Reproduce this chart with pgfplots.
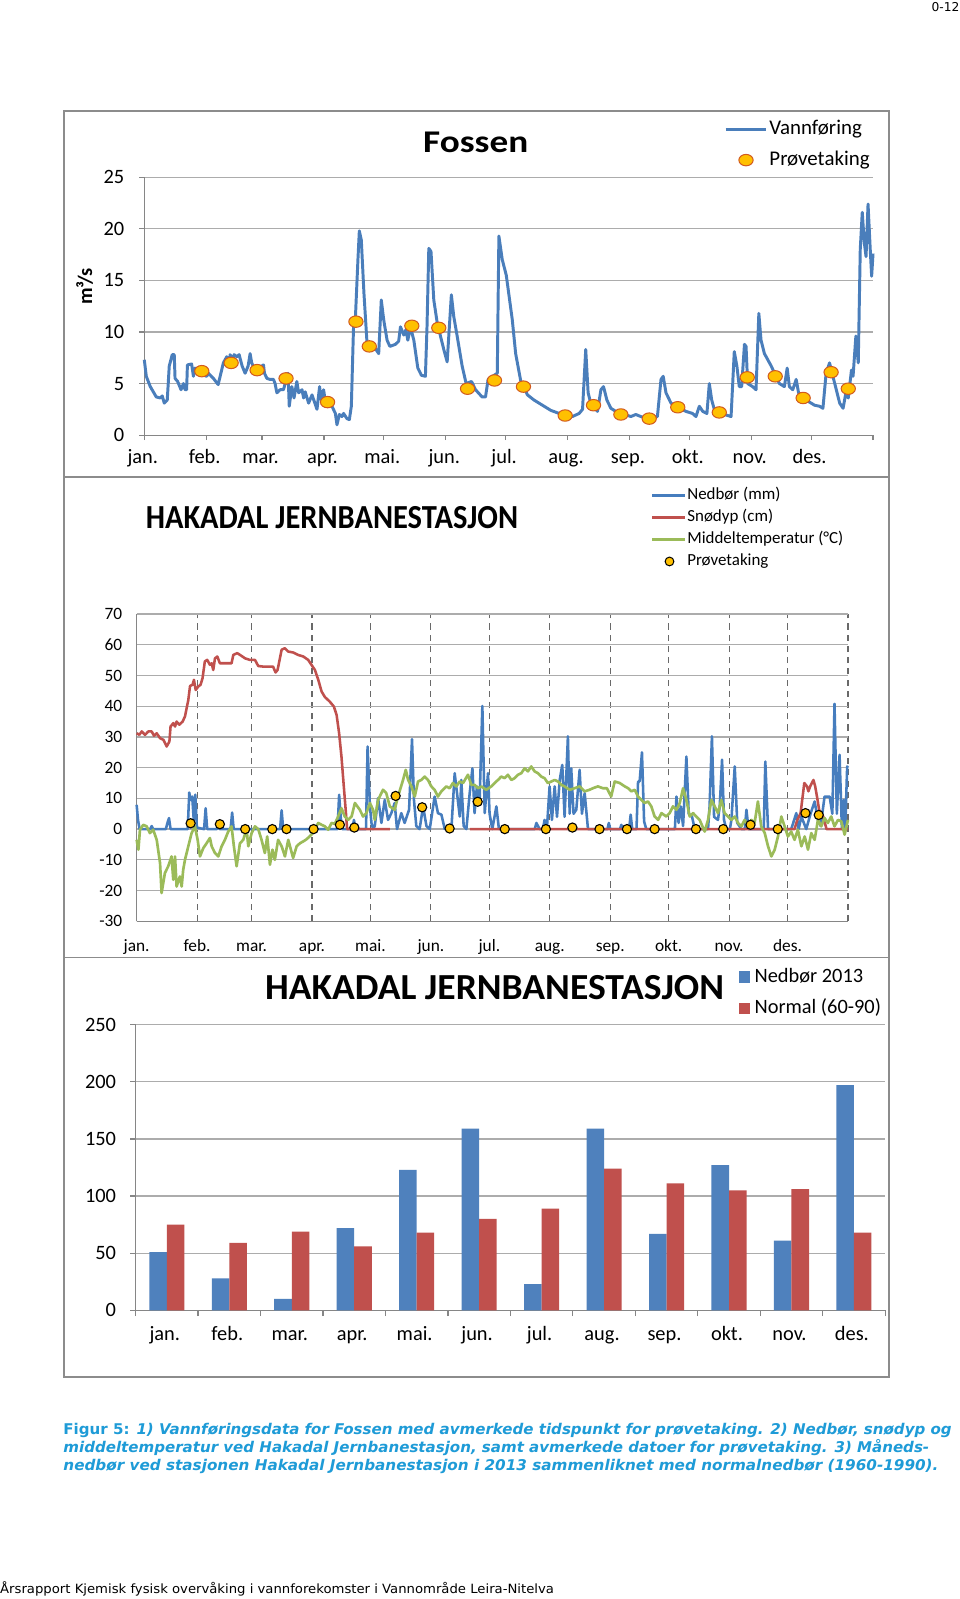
\documentclass[border=0pt]{standalone}
\usepackage{fontspec}
\setmainfont{Carlito}
\newfontfamily\capfont{DejaVu Sans}
\usepackage{graphicx}
\usepackage{pgfplots}
\pgfplotsset{compat=1.18}
\definecolor{pblue}{RGB}{74,126,187}
\definecolor{markfill}{RGB}{255,192,0}
\definecolor{markedge}{RGB}{210,90,30}
\definecolor{nblue}{RGB}{70,125,190}
\definecolor{nred}{RGB}{192,80,77}
\definecolor{ngreen}{RGB}{155,187,89}
\definecolor{gridgray}{RGB}{172,172,172}
\definecolor{axisgray}{RGB}{134,134,134}
\definecolor{dashgray}{RGB}{105,105,105}
\definecolor{framegray}{RGB}{140,140,140}
\definecolor{capblue}{RGB}{30,155,215}
\definecolor{barblue}{RGB}{79,129,189}
\definecolor{barred}{RGB}{192,80,77}
\newcommand\fs[1]{\fontsize{#1}{#1}\selectfont}
\begin{document}
\begin{tikzpicture}
\fill[white] (0pt,0pt) rectangle (941pt,1568pt);
% frames
\draw[framegray, line width=1.6pt] (63pt,1459pt) rectangle (872pt,1100pt);
\draw[framegray, line width=1.6pt] (63pt,1100pt) -- (63pt,629pt);
\draw[framegray, line width=1.6pt] (872pt,1100pt) -- (872pt,629pt);
\draw[framegray, line width=1.6pt] (63pt,629pt) rectangle (872pt,218pt);

% titles
\node[inner sep=0pt] at (466.5pt,1428pt) {\resizebox{103pt}{\height}{\fs{31}\bfseries Fossen}};
\node[inner sep=0pt] at (325.5pt,1060pt) {\resizebox{365pt}{\height}{\fs{33}\bfseries HAKADAL JERNBANESTASJON}};
\node[inner sep=0pt] at (485pt,600pt) {\resizebox{450pt}{\height}{\fs{36}\bfseries HAKADAL JERNBANESTASJON}};

% ---------------- Panel 1 ----------------
\begin{axis}[
  at={(141.5pt,1141.3pt)}, anchor=south west,
  scale only axis, width=714.6pt, height=252.9pt,
  xmin=0, xmax=365, ymin=0, ymax=25, clip=false,
  axis lines*=left, axis line style={-, draw=axisgray, line width=1.2pt},
  tick align=outside, major tick length=5pt,
  tick style={draw=axisgray, line width=1.2pt},
  xtick={0,31,59,90,120,151,181,212,243,273,304,334,365},
  xticklabels={jan.,feb.,mar.,apr.,mai.,jun.,jul.,aug.,sep.,okt.,nov.,des.,},
  ytick={0,5,10,15,20,25}, yticklabels={0,5,10,15,20,25},
  ymajorgrids, grid style={draw=gridgray, line width=1.2pt},
  ticklabel style={font=\fs{20}},
  xticklabel style={anchor=base, inner sep=0pt, yshift=-22.8pt, xshift=-1.5pt},
  yticklabel style={anchor=east, inner sep=0pt, xshift=-14.5pt},
  ylabel={\fs{20}\bfseries m³/s},
  ylabel style={at={(axis description cs:-0.082,0.576)}, anchor=center},
  legend style={at={(axis description cs:0.7956,1.2245)}, anchor=north west,
    draw=none, fill=none, inner sep=0pt, outer sep=0pt, row sep=10pt,
    font=\fs{20.5}, nodes={inner sep=1pt, text height=14pt, text depth=4pt}},
  legend cell align=left,
  legend image code/.code={\path[draw=none,fill=none] (0pt,0pt) -- (42pt,0pt);\draw[#1, line width=3pt] (0pt,0pt) -- (40pt,0pt);},
]
\addplot[pblue, line width=2.9pt, line join=round] coordinates {
(0,7.3) (1,5.7) (3,4.7) (4.5,4.2) (6,3.7) (8,3.6) (9,3.8) (10,3.1) (11.5,3.4) (12.5,6.7)
(14,7.8) (15,7.8) (15.4,5.5) (16.7,5.2) (18.4,4.4) (19.6,5.0) (20.4,4.4) (21.2,4.4) (21.6,6.8) (23.7,6.9)
(24.6,5.7) (25.4,6.5) (27,6.0) (31.3,5.7) (32.1,6.0) (34.6,5.5) (37,4.9) (39.6,7.0) (41.3,7.6) (42.5,6.9)
(43,7.8) (44.3,7.3) (45,7.8) (46.3,7.6) (47.5,7.8) (49,6.7) (50.5,6.0) (52,6.7) (53,7.9) (53.8,7.0)
(55.5,6.3) (59.7,6.8) (60.2,6.0) (61.4,5.5) (63,5.4) (64.7,5.4) (65.5,5.0) (66.4,4.1) (68,4.4) (69.7,4.4)
(72,6.0) (72.6,2.8) (73.9,4.7) (75,3.6) (76.4,5.2) (77.3,4.1) (79,4.4) (79.8,3.6) (80.6,4.2) (82.3,3.1)
(84,3.9) (86.5,2.5) (87.8,4.7) (88.6,3.4) (89.8,4.4) (90.6,3.4) (94,2.8) (95.7,2.1) (96.5,1.0) (97.7,2.0)
(99,1.8) (99.8,2.1) (101.5,1.6) (102.7,1.5) (103.7,2.8) (104.8,10.5) (105.7,11.2) (107,17.0) (107.7,19.8) (108.7,18.9)
(110,13.8) (111.5,9.1) (113.2,8.6) (115.7,8.4) (117.4,7.9) (118.7,13.1) (119.9,11.2) (121.6,9.2) (123,8.6) (125.8,8.8)
(127.4,9.1) (128.3,10.5) (130,9.7) (131,10.2) (132,9.2) (133.3,10.5) (135,9.2) (137,6.5) (138.8,5.8) (140.8,5.7)
(141.6,10.5) (142.5,18.1) (143.6,17.8) (145,13.1) (146.7,10.9) (150,8.3) (151.7,7.1) (153.8,13.6) (155,11.5) (156.7,9.6)
(159.2,6.7) (161.2,5.0) (163.9,5.2) (165.9,4.4) (169.2,3.7) (170.9,3.7) (172.2,5.4) (176.8,6.0) (177.6,19.3) (179.3,17.0)
(181.3,15.5) (184.3,11.2) (186,7.9) (188.5,5.3) (191.9,3.9) (195.2,3.4) (199.4,2.9) (203.6,2.4) (207.8,2.1) (214.4,1.8)
(217.8,2.1) (219.5,2.5) (221.1,8.3) (222.3,4.1) (223.6,3.1) (227,2.3) (228.7,4.4) (230,4.7) (231.7,3.4) (233.7,2.6)
(236.2,2.3) (243.7,1.8) (246.2,2.0) (248.7,1.8) (252,1.6) (257,1.8) (258.8,5.4) (259.9,5.7) (261.3,4.1) (263.8,3.1)
(266.3,2.8) (271.3,2.3) (274.6,2.1) (276.3,1.8) (278,2.8) (279.7,2.3) (281.8,2.1) (283,5.0) (284.2,3.4) (285.5,2.5)
(290.5,2.0) (293.9,1.8) (295.5,8.1) (296.8,6.7) (298,4.7) (299.2,4.7) (300.6,8.8) (301.4,8.6) (302.2,5.0) (304.7,4.7)
(306.4,4.4) (307.8,11.8) (308.9,9.2) (310.6,7.9) (312.3,7.3) (314,6.7) (318.1,5.0) (320.6,4.7) (322,6.5) (323.1,4.7)
(324.8,4.4) (326.5,5.4) (327.7,4.1) (332.3,3.3) (335.7,2.9) (338.2,2.8) (339.9,2.6) (341.5,6.0) (343.2,7.0) (346.6,4.4)
(348.3,3.1) (350,2.6) (351.4,4.1) (352.6,3.6) (354.2,6.3) (355,5.7) (356.4,9.6) (357.6,7.0) (358.6,18.0) (359.6,21.6)
(360.6,18.7) (361.5,17.3) (362.5,22.4) (363.6,18.0) (364.3,15.4) (365,17.6)
};
\addlegendentry{Vannføring}
\addplot[only marks, mark=*, mark size=5.6pt,
  mark options={xscale=1.25, draw=markedge, fill=markfill, line width=1pt},
  legend image code/.code={\path[draw=none,fill=none] (0pt,0pt) -- (42pt,0pt);\draw[draw=markedge, fill=markfill, line width=1pt] (20pt,0pt) ellipse [x radius=7pt, y radius=5.6pt];}]
coordinates {
(28.8,6.2) (43.5,7.0) (56.5,6.3) (71.0,5.5) (91.8,3.2) (106.0,11.0) (112.7,8.6) (134.0,10.6)
(147.5,10.4) (161.9,4.5) (175.4,5.3) (189.9,4.7) (210.8,1.9) (225.0,2.9) (238.7,2.0) (252.9,1.6)
(267.2,2.7) (288.0,2.2) (302.0,5.6) (316.0,5.7) (330.0,3.6) (344.0,6.1) (352.6,4.5)
};
\addlegendentry{Prøvetaking}
\end{axis}

% ---------------- Panel 2 ----------------
\begin{axis}[
  at={(134pt,664.6pt)}, anchor=south west,
  scale only axis, width=697.5pt, height=301.2pt,
  xmin=0, xmax=365, ymin=-30, ymax=70, clip=false,
  axis lines*=left, axis line style={-, draw=axisgray, line width=1.2pt},
  major tick length=0pt,
  xtick={0,31,59,90,120,151,181,212,243,273,304,334,365},
  xticklabels={jan.,feb.,mar.,apr.,mai.,jun.,jul.,aug.,sep.,okt.,nov.,des.,},
  ytick={-30,-20,-10,0,10,20,30,40,50,60,70},
  yticklabels={-30,-20,-10,0,10,20,30,40,50,60,70},
  xmajorgrids, ymajorgrids,
  x grid style={draw=dashgray, line width=1.1pt, dash pattern=on 6pt off 5pt},
  y grid style={draw=gridgray, line width=1.2pt},
  ticklabel style={font=\fs{17}},
  xticklabel style={anchor=base, inner sep=0pt, yshift=-29.5pt},
  yticklabel style={anchor=east, inner sep=0pt, xshift=-14pt},
  unbounded coords=jump,
  legend style={at={(axis description cs:0.7226,1.4157)}, anchor=north west,
    draw=none, fill=none, inner sep=0pt, outer sep=0pt, row sep=4.7pt,
    font=\fs{16.6}, nodes={inner sep=1pt, text height=11.5pt, text depth=3.5pt}},
  legend cell align=left,
  legend image code/.code={\path[draw=none,fill=none] (0pt,0pt) -- (33pt,0pt);\draw[#1, line width=3pt] (0pt,0pt) -- (32pt,0pt);},
]
\addplot[nblue, line width=2.5pt, line join=round] coordinates {
(0,7.9) (0.7,3) (1.5,0) (7,0) (7.7,1) (8.5,0) (15,0) (15.8,2) (16.6,3.6) (17.4,0) (26.2,0) (27,11.9) (27.7,9.5)
(28.5,10.6) (29.3,3) (30.1,11.2) (30.9,0.5) (34.6,0) (35.4,6.8) (36.2,0) (41.2,0) (41.9,2) (42.6,0) (48.2,0) (49,5.4)
(49.8,0) (73.6,0) (74.4,6.1) (75.2,0) (103.1,0) (103.9,11.2) (104.7,4) (105.5,0) (110.7,0) (111.5,3) (112.3,0)
(117.7,0) (118.5,26.9) (119.7,7.4) (120.5,2) (121.3,0) (122.2,1) (123.9,10.1) (125.6,2) (127.3,9.5) (129,3) (130.7,5.2)
(132.4,8.5) (133.6,0) (135.8,5.2) (137.5,2) (139.8,6.3) (141.3,29.3) (142.3,9.5) (143.5,1) (145.2,0) (147,7.4) (148.7,1)
(150.4,0) (152.9,10.6) (154.6,5.2) (156.4,4.7) (158.1,0) (161.5,0) (163.2,18.2) (164.4,11.7) (165.8,4.1) (166.6,16)
(167.8,1) (169.2,0) (170.9,11.7) (172.3,19.8) (173.4,5.2) (174.6,13.9) (176,9.5) (177.4,40.1) (178.6,5.2) (180.3,18.2)
(181.1,5) (182.5,0) (184.6,7.4) (185.9,0) (204.3,0) (205.1,2) (206.8,0) (208.5,0) (209.3,3) (210.5,0) (211.9,13.9)
(213.1,3) (214.5,13.9) (215.7,4) (217.1,16) (218.4,20.9) (219.6,4) (221.3,30.2) (222.2,5) (223,19.8) (224.2,5)
(225.6,6.3) (227.3,19.3) (228.5,5) (229.9,11.7) (231.6,0) (241.6,0) (242.3,2) (243,0) (248,0) (248.7,1.4) (249.4,0)
(252.7,0) (253.5,4.7) (254.3,0) (256.5,0) (257.3,15.5) (258.1,15.5) (259.3,25) (260.4,2.5) (261.5,0) (276.2,0)
(277,10.6) (278.1,2) (279.2,7.4) (280.4,1) (282.1,23.6) (283.3,5) (285,4) (286.4,0) (293.2,0) (294,7.4) (295.2,30.2)
(296.3,4) (298.3,3) (299.2,7.4) (300.4,22.6) (301.4,3) (302.6,0) (304.4,0) (305.2,3) (306.9,20.4) (308.2,2) (310.3,0)
(312.1,0) (312.9,6.3) (314,0) (321.8,0) (322.6,22) (324,0) (335.9,0) (338.5,5.2) (339.7,0) (341.1,4.1) (343.6,0)
(345.8,5) (347.9,9) (349.6,3) (351,1) (353,10.6) (355.6,10.6) (357,5) (358.1,40.8) (359.3,5) (360.7,24.2) (361.9,0)
(362.9,9.5) (363.6,0) (364.6,20.4) (365,20)
};
\addlegendentry{Nedbør (mm)}
\addplot[nred, line width=2.5pt, line join=round] coordinates {
(0,31.2) (1.4,30.7) (2.6,31.8) (4.3,30.7) (6,31.8) (7.7,31.8) (8.9,30.4) (10.3,31.2) (12,29.6) (13.7,29.1)
(15.4,26.9) (16.8,28.5) (17.4,33.4) (18.8,34.5) (19.7,33.4) (20.5,35.0) (21.9,34.0) (23.6,35.0) (24.8,36.7) (26.5,42.0)
(27.4,46.6) (28.7,47.0) (29.4,48.6) (30.3,45.3) (31.6,46.4) (32.8,47.0) (33.8,49.1) (35.0,54.6) (36.2,55.1) (37.6,53.5)
(38.5,54.0) (39.3,51.8) (40.2,55.6) (41.4,56.2) (42.7,54.0) (46.0,54.0) (48.7,54.0) (49.6,56.7) (51.6,57.3) (53.8,56.4)
(55.6,55.6) (58.0,55.1) (60.7,55.1) (62.4,53.1) (65.0,52.9) (67.5,52.9) (70.0,52.9) (71.3,51.0) (72.3,51.8) (74.4,58.4)
(76.0,58.9) (77.8,57.8) (80.3,57.5) (82.9,56.7) (85.5,56.2) (88.0,55.1) (89.7,53.5) (91.5,51.8) (93.2,48.6) (94.9,44.8)
(96.6,43.0) (99.1,41.5) (101.2,39.9) (102.6,37.2) (103.9,31.2) (105.1,23.6) (106.3,13.9) (107.4,5.2) (108,0) (130,0)
(150,nan)
(171,0) (337.6,0) (339,3) (340.7,5.2) (342.6,15) (344,13.9) (344.7,12.3) (345.6,13.9) (347.3,16) (348.2,13.9)
(349.4,9.5) (350.2,6.3) (352.3,4.1) (354,0) (365,0)
};
\addlegendentry{Snødyp (cm)}
\addplot[ngreen, line width=2.6pt, line join=round] coordinates {
(0,-3.5) (0.9,-6.7) (1.7,-0.2) (3.4,1.4) (5.1,0.9) (6.8,-1.3) (8.5,-0.2) (10.3,-3.5) (12.0,-11) (12.8,-20.8)
(14.5,-14.3) (16.2,-12.1) (17.9,-8.9) (18.8,-16.5) (19.7,-8.9) (20.5,-18.7) (22.2,-15.4) (23.1,-18.7) (23.9,-13.2) (24.8,-10)
(26.5,-5.6) (28.2,-1.3) (29.9,0.9) (31.3,-3.5) (32.5,-8.9) (34.2,-6.2) (35.9,-4.6) (37.6,-2.9) (38.5,-5.6) (40.2,-7.8)
(41.9,-8.9) (43.6,-5.6) (45.3,-3.5) (47.0,-0.8) (48.7,0.9) (49.9,-5.6) (51.3,-12.1) (53.0,-4.6) (54.7,-3.5) (56.4,0)
(57.3,-5.6) (59.0,-1.3) (60.7,0.9) (62.4,0) (64.1,-3.5) (65.8,-7.8) (67.0,-2.4) (68.4,-11.6) (69.7,-6.7) (70.9,-10)
(72.6,-3.5) (74.4,-5.6) (76.1,-8.9) (77.8,-3.5) (80.3,-9.4) (82.1,-5.6) (83.8,-4.6) (85.5,-4.0) (87.2,-3.3) (89.7,-1.8)
(91.5,0) (93.2,2) (94.9,1.4) (96.6,0.9) (98.3,-0.2) (100.0,2) (101.7,1.7) (103.4,4.1) (105.1,6.8) (106.8,4.1)
(108.5,3) (110.3,4.1) (112.0,8.5) (114.5,6.3) (116.2,4.1) (117.9,5.2) (119.7,8.5) (121.3,6.3) (122.2,3) (123.9,9.5)
(126.4,12.8) (128.1,11.7) (129.9,7.4) (132.4,6.3) (134.1,10.6) (136.7,16) (138.1,19.3) (139.3,16) (141.0,13.9) (142.7,10.6)
(144.4,15.5) (146.1,16) (147.8,17.1) (149.5,16) (151.2,13.9) (152.9,12.8) (154.6,10.6) (156.4,12.3) (158.9,13.9) (160.6,13.3)
(162.3,15) (164.0,13.9) (165.8,15.5) (167.5,15) (170.0,17.7) (171.7,14.4) (173.4,14.4) (175.2,13.3) (176.9,13.9) (179.4,12.8)
(182.0,13.9) (183.7,15) (185.4,16) (187.1,17.1) (188.8,16.6) (190.5,17.7) (192.3,16) (194.0,16.6) (195.7,17.7) (197.4,18.2)
(199.1,19.8) (200.8,18.8) (202.5,20.4) (204.2,18.8) (205.9,18.2) (207.6,17.1) (209.3,16.6) (211.0,15) (212.8,15.5) (214.5,16)
(216.2,15.5) (217.9,14.4) (219.6,13.9) (222.2,12.8) (224.7,13.3) (227.3,13.9) (229.9,12.3) (232.4,12.8) (234.1,13.3) (236.7,13.9)
(239.3,13.3) (241.3,13.3) (243.5,10.6) (245.3,15.5) (247.9,15) (250.5,13.9) (252.2,13.3) (253.9,12.3) (255.6,12.8) (257.3,10.6)
(259,9.5) (260.7,8.5) (262.4,9) (264.1,7.4) (265.8,4.1) (267.6,3) (269.3,5.2) (271.8,4.1) (273.5,5.2) (275.2,7.4)
(277,6.3) (278.7,8.5) (280.4,13.3) (282.1,9.5) (283.8,4.1) (285.5,5.2) (287.2,4.1) (288.9,3) (291.5,-0.8) (293.2,3)
(294.9,9.5) (296.6,7.4) (298.3,5.2) (300,9.5) (301.7,5.2) (303.4,4.1) (305.2,3) (306.9,4.1) (308.6,2) (310.3,0.9)
(312,3) (314.1,0.9) (315.4,3) (317.1,2) (318.8,9) (320.5,0.9) (322.3,-1.3) (324,-5.6) (325.7,-8.9) (327.4,-6.7)
(329.1,-2.4) (330.8,4.1) (332.5,0.9) (334.2,-2.4) (335.9,-0.8) (337.6,-3.5) (339.3,-0.2) (341.1,-5.6) (342.8,-2.4) (344.5,-6.7)
(346.2,-1.3) (347.9,-3.5) (349.6,3) (351.3,0.9) (353,3.6) (354.7,2) (356.4,4.1) (358.1,0.9) (359.9,3) (361.6,2.5)
(363.3,-1.8) (365,3)
};
\addlegendentry{Middeltemperatur (°C)}
\addplot[only marks, mark=*, mark size=4.5pt,
  mark options={draw=black, fill=markfill, line width=1.1pt},
  legend image code/.code={\path[draw=none,fill=none] (0pt,0pt) -- (33pt,0pt);\draw[draw=black, fill=markfill, line width=1pt] (17pt,0pt) circle [radius=4.3pt];}]
coordinates {
(27.7,1.9) (42.7,1.6) (55.7,0) (69.6,0) (76.9,0) (90.8,0) (104.3,1.4) (111.7,0.5) (132.9,10.8) (146.5,7.1)
(160.6,0.2) (175.0,8.9) (188.9,0) (210.0,0) (223.6,0.5) (237.5,0) (251.6,0) (265.8,0) (287.0,0) (301.0,0)
(315.0,1.4) (329.0,0) (343.2,5.2) (350.0,4.6)
};
\addlegendentry{Prøvetaking}
\end{axis}

% ---------------- Panel 3 ----------------
\begin{axis}[
  at={(133pt,283pt)}, anchor=south west,
  scale only axis, width=735pt, height=280.3pt,
  xmin=-0.5, xmax=11.5, ymin=0, ymax=250, clip=false,
  ybar=0pt, bar width=17.2pt,
  axis lines*=left, axis line style={-, draw=axisgray, line width=1.2pt},
  tick align=outside, major tick length=5.5pt,
  tick style={draw=axisgray, line width=1.2pt},
  xtick={-0.5,0.5,1.5,2.5,3.5,4.5,5.5,6.5,7.5,8.5,9.5,10.5,11.5},
  x tick label as interval,
  xticklabels={jan.,feb.,mar.,apr.,mai.,jun.,jul.,aug.,sep.,okt.,nov.,des.},
  ytick={0,50,100,150,200,250}, yticklabels={0,50,100,150,200,250},
  ymajorgrids, grid style={draw=gridgray, line width=1.2pt},
  ticklabel style={font=\fs{20}},
  xticklabel style={anchor=base, inner sep=0pt, yshift=-24.5pt, xshift=-2pt},
  yticklabel style={anchor=east, inner sep=0pt, xshift=-13.5pt},
  legend style={at={(axis description cs:0.8054,1.2023)}, anchor=north west,
    draw=none, fill=none, inner sep=0pt, outer sep=0pt, row sep=11pt,
    font=\fs{20}, nodes={inner sep=1pt, text height=14pt, text depth=4pt}},
  legend cell align=left,
  legend image code/.code={\path[draw=none,fill=none] (0pt,0pt) -- (14pt,0pt);\fill[#1] (0pt,-5.5pt) rectangle (10pt,5.5pt);},
]
\addplot[fill=barblue, draw=none] coordinates {
(0,51) (1,28) (2,10) (3,72) (4,123) (5,159) (6,23) (7,159) (8,67) (9,127) (10,61) (11,197)
};
\addlegendentry{Nedbør 2013}
\addplot[fill=barred, draw=none] coordinates {
(0,75) (1,59) (2,69) (3,56) (4,68) (5,80) (6,89) (7,124) (8,111) (9,105) (10,106) (11,68)
};
\addlegendentry{Normal (60-90)}
\end{axis}

% caption
\node[anchor=base west, inner sep=0pt, text=capblue] at (62pt,161pt)
  {\resizebox{871pt}{\height}{\capfont\fs{14.5}\bfseries Figur 5: {\itshape 1) Vannføringsdata for Fossen med avmerkede tidspunkt for prøvetaking. 2) Nedbør, snødyp og}}};
\node[anchor=base west, inner sep=0pt, text=capblue] at (62pt,143.5pt)
  {\resizebox{849pt}{\height}{\capfont\fs{14.5}\bfseries\itshape middeltemperatur ved Hakadal Jernbanestasjon, samt avmerkede datoer for prøvetaking. 3) Måneds-}};
\node[anchor=base west, inner sep=0pt, text=capblue] at (62pt,126pt)
  {\resizebox{858pt}{\height}{\capfont\fs{14.5}\bfseries\itshape nedbør ved stasjonen Hakadal Jernbanestasjon i 2013 sammenliknet med normalnedbør (1960-1990).}};
% footer
\node[anchor=base west, inner sep=0pt] at (0pt,5pt)
  {\resizebox{543pt}{\height}{\capfont\fs{12.5}Årsrapport Kjemisk fysisk overvåking i vannforekomster i Vannområde Leira-Nitelva}};
\node[anchor=base east, inner sep=0pt] at (941pt,1557pt) {\capfont\fs{12}0-12};
\pgfresetboundingbox
\useasboundingbox (0pt,0pt) rectangle (941pt,1568pt);
\end{tikzpicture}
\end{document}
